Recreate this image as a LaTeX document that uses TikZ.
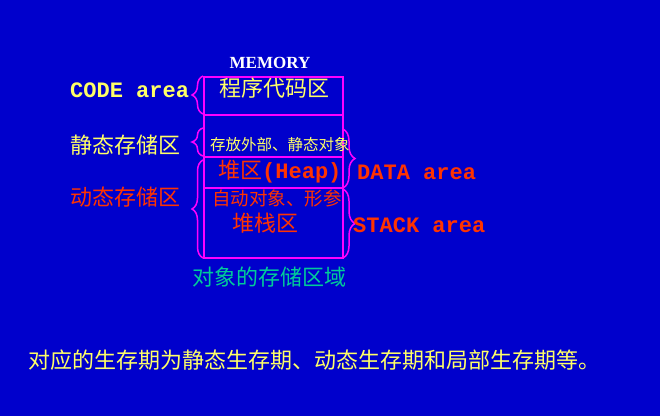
\documentclass[tikz,border=0pt]{standalone}
\usepackage{fontspec}
\setmainfont{Liberation Serif}
\newfontfamily\cjk{Noto Sans CJK SC}
\newfontfamily\cour{Liberation Mono}
\usetikzlibrary{decorations.pathreplacing}
\definecolor{bg}{RGB}{0,0,204}
\definecolor{ylw}{RGB}{255,255,102}
\definecolor{rd}{RGB}{255,51,0}
\definecolor{mg}{RGB}{255,0,255}
\definecolor{tl}{RGB}{0,204,153}
\begin{document}
\begin{tikzpicture}[x=1pt,y=-1pt,
  txt/.style={inner sep=0pt,anchor=west},
  cn/.style={txt,font=\cjk\fontsize{22}{24}\selectfont},
  cr/.style={txt,font=\cour\bfseries\fontsize{22}{24}\selectfont},
  memline/.style={draw=mg,line width=1.5pt},
  brc/.style={draw=mg,line width=1.5pt,decorate,decoration={brace,amplitude=11pt}}]
\fill[bg] (0,0) rectangle (660,416);
\useasboundingbox (0,0) rectangle (660,416);
% memory box
\coordinate (tl) at (204,77);
\coordinate (br) at (343,258);
\draw[memline] (tl) rectangle (br);
\coordinate (l1) at (204,115); \coordinate (r1) at (343,115);
\coordinate (l2) at (204,157); \coordinate (r2) at (343,157);
\coordinate (l3) at (204,188); \coordinate (r3) at (343,188);
\draw[memline] (l1) -- (r1);
\draw[memline] (l2) -- (r2);
\draw[memline] (l3) -- (r3);
% braces
\coordinate (cb1) at (203,114); \coordinate (cb2) at (203,76);
\coordinate (sb1) at (203,156); \coordinate (sb2) at (203,128);
\coordinate (db1) at (203,258); \coordinate (db2) at (203,160);
\coordinate (ra1) at (343,129); \coordinate (ra2) at (343,188);
\coordinate (rs1) at (343,189); \coordinate (rs2) at (343,258);
\draw[brc] (cb1) -- (cb2);
\draw[brc] (sb1) -- (sb2);
\draw[brc] (db1) -- (db2);
\draw[brc,decoration={amplitude=12pt}] (ra1) -- (ra2);
\draw[brc,decoration={amplitude=12pt}] (rs1) -- (rs2);
% texts
\node[inner sep=0pt,text=white,font=\bfseries\fontsize{17}{19}\selectfont] (mem) at (270,63) {MEMORY};
\node[cr,text=ylw] (code) at (70,90) {CODE area};
\node[cn,text=ylw,anchor=center] (prog) at (274,88) {程序代码区};
\node[cn,text=ylw] (stat) at (70,145) {静态存储区};
\node[cn,text=ylw,font=\cjk\fontsize{15.5}{17}\selectfont] (ext) at (210,145) {存放外部、静态对象};
\node[cn,text=rd] (heap) at (218,172) {堆区{\cour\bfseries (Heap)}};
\node[cr,text=rd] (data) at (357,172) {DATA area};
\node[cn,text=rd] (dyn) at (70,197) {动态存储区};
\node[cn,text=rd,font=\cjk\fontsize{18.5}{20}\selectfont] (auto) at (212,198) {自动对象、形参};
\node[cn,text=rd] (stk) at (232,223) {堆栈区};
\node[cr,text=rd] (stack) at (353,225) {STACK area};
\node[cn,text=tl] (obj) at (192,277) {对象的存储区域};
\node[cn,text=ylw] (bottom) at (28,360) {对应的生存期为静态生存期、动态生存期和局部生存期等。};
\end{tikzpicture}
\end{document}
